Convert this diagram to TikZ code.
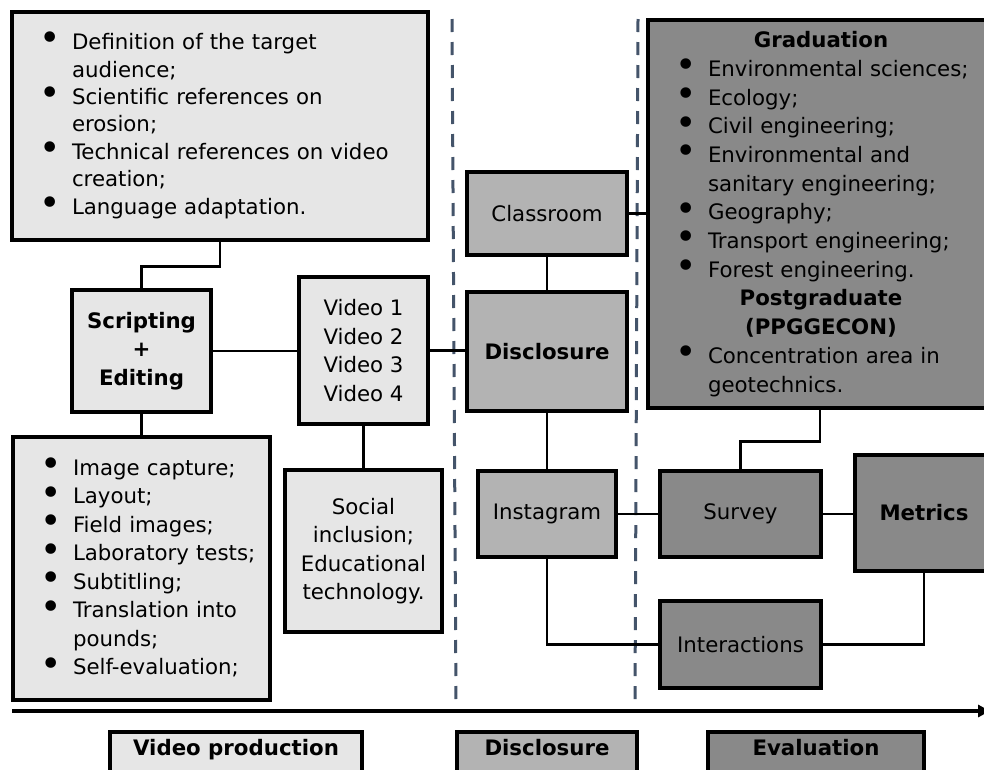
\documentclass[tikz,border=0pt]{standalone}
\usepackage{fontspec}
\setmainfont{DejaVu Sans}
\usepackage{graphicx}
\usetikzlibrary{arrows.meta, calc}

\definecolor{lightgrey}{HTML}{E6E6E6}
\definecolor{midgrey}{HTML}{B3B3B3}
\definecolor{darkgrey}{HTML}{898989}
\definecolor{slate}{HTML}{44546A}

\newcommand{\boxfont}{\fontsize{21.3}{28.5}\selectfont}
\newcommand{\itm}{\makebox[30pt][l]{\hspace{-3pt}\smash{\raisebox{-0.06em}{\scalebox{1.7}{•}}}}}
\newcommand{\cont}{\hspace*{30pt}}
\newcommand{\hd}[1]{\makebox[286pt]{\textbf{#1}}}

\begin{document}
\begin{tikzpicture}[x=1pt, y=-1pt,
    every node/.style={font=\boxfont},
    box/.style={draw=black, line width=3.4pt, inner sep=0pt, align=center},
    light/.style={box, fill=lightgrey},
    mid/.style={box, fill=midgrey},
    dark/.style={box, fill=darkgrey},
    listbox/.style={text width=#1, align=left, execute at begin node={\leftskip=30pt}},
    bold/.style={font=\boxfont\bfseries},
    tag/.style={bold, text height=0.76em, text depth=0.24em, minimum height=42pt},
    link/.style={line width=2.8pt},
    sep/.style={slate, line width=3pt, dash pattern=on 13pt off 10pt}]

                \path[use as bounding box, fill=white] (0,0) rectangle (984,769);

                % phase separators
                \draw[sep] (452,19) -- (456,702);
                \draw[sep] (638,19) -- (635,702);

                % video production
                \node[light, listbox=416pt, minimum height=228pt, font=\fontsize{21.3}{27.4}\selectfont] (aims) at (220,126) {\itm Definition of the target\\ \cont audience;\\ \itm Scientific references on\\ \cont erosion;\\ \itm Technical references on video\\ \cont creation;\\ \itm Language adaptation.};
                \node[light, bold, minimum width=139pt, minimum height=122pt] (script) at (141.5,351) {Scripting\\+\\Editing};
                \node[light, minimum width=129pt, minimum height=147pt] (videos) at (363.5,350.5) {Video 1\\Video 2\\Video 3\\Video 4};
                \node[light, listbox=257pt, minimum height=263pt] (tasks) at (141.5,568.5) {\itm Image capture;\\ \itm Layout;\\ \itm Field images;\\ \itm Laboratory tests;\\ \itm Subtitling;\\ \itm Translation into\\ \cont pounds;\\ \itm Self-evaluation;};
                \node[light, minimum width=157pt, minimum height=162pt] (inclusion) at (363.5,551) {Social\\inclusion;\\Educational\\technology.};

                % disclosure
                \node[mid, minimum width=160pt, minimum height=83pt] (classroom) at (547,213.5) {Classroom};
                \node[mid, bold, minimum width=160pt, minimum height=119pt] (disclosure) at (547,351.5) {Disclosure};
                \node[mid, minimum width=138pt, minimum height=86pt] (instagram) at (547,514) {Instagram};

                % evaluation
                \node[dark, listbox=344pt, minimum height=388pt, font=\fontsize{21.3}{28.7}\selectfont] (courses) at (820,214) {\hd{Graduation}\\ \itm Environmental sciences;\\ \itm Ecology;\\ \itm Civil engineering;\\ \itm Environmental and\\ \cont sanitary engineering;\\ \itm Geography;\\ \itm Transport engineering;\\ \itm Forest engineering.\\ \hd{Postgraduate}\\ \hd{(PPGGECON)}\\ \itm Concentration area in\\ \cont geotechnics.};
                \node[dark, minimum width=161pt, minimum height=86pt] (survey) at (740.5,514) {Survey};
                \node[dark, minimum width=161pt, minimum height=87pt] (interactions) at (740.5,644.5) {Interactions};
                \node[dark, bold, minimum width=138pt, minimum height=116pt] (metrics) at (924,513) {Metrics};

                % links
                \draw[link] (aims.south) -- ++(0,25) -| (script.north);
                \draw[link] (script.east) -- (script.east -| videos.west);
                \draw[link] (script.south) -- (tasks.north);
                \draw[link] (videos.south) -- (inclusion.north);
                \draw[link] (videos.east) -- (videos.east -| disclosure.west);
                \draw[link] (classroom.south) -- (disclosure.north);
                \draw[link] (classroom.east) -- (classroom.east -| courses.west);
                \draw[link] (disclosure.south) -- (instagram.north);
                \draw[link] (instagram.east) -- (survey.west);
                \draw[link] (instagram.south) |- (interactions.west);
                \draw[link] (courses.south) -- ++(0,32) -| (survey.north);
                \draw[link] (survey.east) -- (survey.east -| metrics.west);
                \draw[link] (interactions.east) -| (metrics.south);

                % time axis
                \draw[line width=3.4pt, -{Triangle[length=12pt, width=12pt]}] (12,711) -- (990,711);

                \node[light, tag, minimum width=252pt] (prodtag) at (236,753) {Video production};
                \node[mid, tag, minimum width=180pt] (disctag) at (547,753) {Disclosure};
                \node[dark, tag, minimum width=216pt] (evaltag) at (816,753) {Evaluation};

\end{tikzpicture}
\end{document}
